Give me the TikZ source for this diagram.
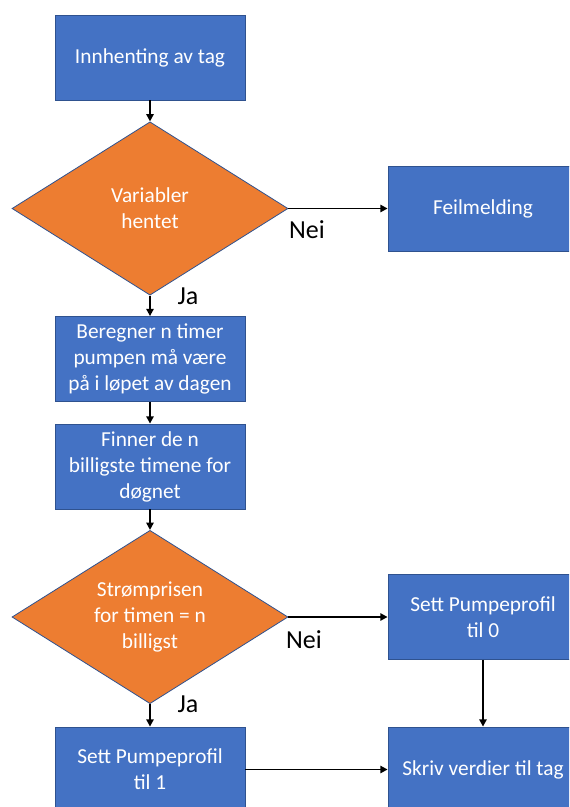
\documentclass[tikz,border=0pt]{standalone}
\usepackage{fontspec}
\setmainfont{Carlito}
\usetikzlibrary{shapes.geometric,arrows.meta}
\definecolor{boxblue}{HTML}{4472C4}
\definecolor{boxedge}{HTML}{2F528F}
\definecolor{decor}{HTML}{ED7D31}
\begin{document}
\begin{tikzpicture}[x=0.75pt,y=-0.75pt,
  proc/.style={draw=boxedge,line width=0.6pt,fill=boxblue,text=white,
    minimum width=142.5pt,minimum height=63.75pt,inner sep=0pt,align=center,
    font=\fontsize{16}{19.5}\selectfont},
  dec/.style={diamond,draw=boxedge,line width=0.6pt,fill=decor,text=white,
    minimum width=207pt,minimum height=130pt,inner sep=0pt,aspect=1.6,align=center,
    font=\fontsize{16}{19.5}\selectfont},
  arr/.style={-{Triangle[length=5.5pt,width=5.5pt]},line width=1.4pt},
  lab/.style={font=\fontsize{19.5}{23}\selectfont,inner sep=0pt}]
\useasboundingbox (0,0) rectangle (569,807);
\clip (0,0) rectangle (569,807);
\node[proc] (a) at (150,57.5) {Innhenting av tag};
\node[dec] (d1) at (150,208.5) {Variabler\\hentet};
\node[proc] (f) at (483,208.5) {Feilmelding};
\node[proc] (b) at (150,359) {Beregner n timer\\pumpen må være\\på i løpet av dagen};
\node[proc] (c) at (150,466.5) {Finner de n\\billigste timene for\\døgnet};
\node[dec] (d2) at (150,617) {Strømprisen\\for timen = n\\billigst};
\node[proc] (s0) at (483,617) {Sett Pumpeprofil\\til 0};
\node[proc] (s1) at (150,769.5) {Sett Pumpeprofil\\til 1};
\node[proc] (w) at (483,769.5) {Skriv verdier til tag};
\draw[arr] (a) -- (d1);
\draw[arr] (d1.east) -- (f.west);
\draw[arr] (d1) -- (b);
\draw[arr] (b) -- (c);
\draw[arr] (c) -- (d2);
\draw[arr] (d2.east) -- (s0.west);
\draw[arr] (d2) -- (s1);
\draw[arr] (s0) -- (w);
\draw[arr] (s1) -- (w);
\node[lab] (n1) at (307,230) {Nei};
\node[lab] (j1) at (188,296) {Ja};
\node[lab] (n2) at (304,640) {Nei};
\node[lab] (j2) at (188,704) {Ja};
\end{tikzpicture}
\end{document}
